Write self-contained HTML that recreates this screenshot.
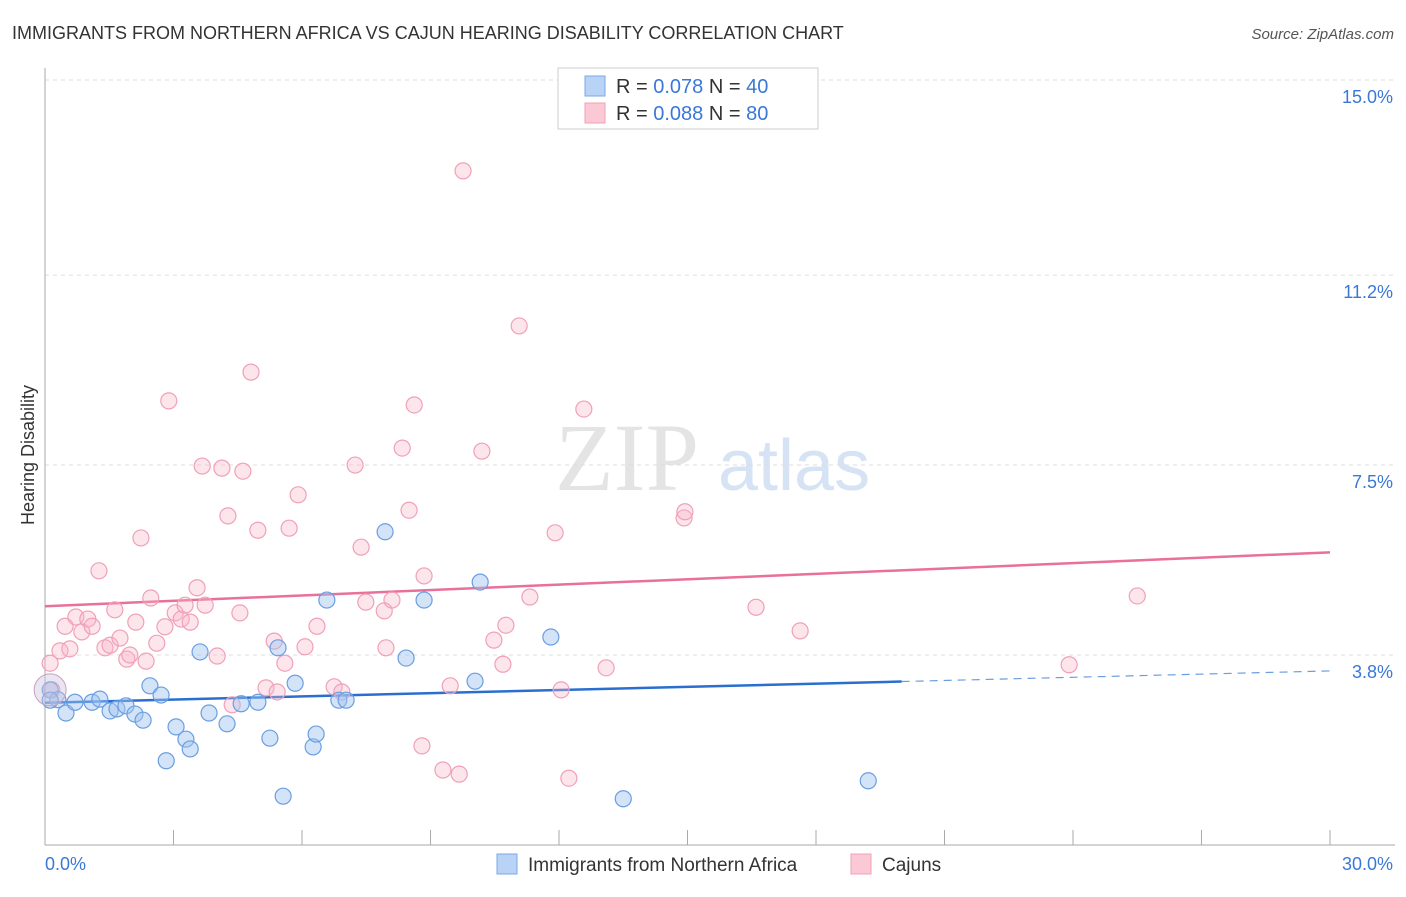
<!DOCTYPE html>
<html><head><meta charset="utf-8"><style>
body{margin:0;background:#fff;font-family:"Liberation Sans",sans-serif;}
svg text{font-family:"Liberation Sans",sans-serif;}
</style></head><body>
<svg id="chart" width="1406" height="892" viewBox="0 0 1406 892" xmlns="http://www.w3.org/2000/svg">
<text x="12" y="39" font-size="18" fill="#333">IMMIGRANTS FROM NORTHERN AFRICA VS CAJUN HEARING DISABILITY CORRELATION CHART</text>
<text x="1394" y="39" font-size="15" fill="#555" text-anchor="end" font-style="italic">Source: ZipAtlas.com</text>
<g>
<text x="555" y="490" font-size="96" fill="#e4e4e4" font-family="Liberation Serif" style="font-family:'Liberation Serif',serif">ZIP</text>
<text x="718" y="490" font-size="72" fill="#d5e3f4">atlas</text>
</g>
<g id="grid"></g>
<g id="axes"></g>
<g id="trends"></g>
<g id="points"></g>
<text transform="translate(34,455) rotate(-90)" font-size="18" fill="#333" text-anchor="middle">Hearing Disability</text>
<g>
<rect x="558" y="68" width="260" height="61" fill="#fff" stroke="#ccc"/>
<rect x="585" y="76" width="20" height="20" fill="#b8d3f5" stroke="#7aa9e6"/>
<rect x="585" y="103" width="20" height="20" fill="#fbc8d6" stroke="#f0a0b8"/>
<text x="616" y="93" font-size="20" fill="#333">R = <tspan fill="#3a78d8">0.078</tspan>   N = <tspan fill="#3a78d8">40</tspan></text>
<text x="616" y="120" font-size="20" fill="#333">R = <tspan fill="#3a78d8">0.088</tspan>   N = <tspan fill="#3a78d8">80</tspan></text>
</g>
<g>
<rect x="497" y="854" width="20" height="20" fill="#b8d3f5" stroke="#7aa9e6"/>
<text x="528" y="871" font-size="19" fill="#333">Immigrants from Northern Africa</text>
<rect x="851" y="854" width="20" height="20" fill="#fbc8d6" stroke="#f0a0b8"/>
<text x="882" y="871" font-size="19" fill="#333">Cajuns</text>
</g>
</svg>
<script>
const yTicks=[3.8,7.5,11.2,15.0];
const yTickLabels=["3.8%","7.5%","11.2%","15.0%"];
const xTickLabels=["0.0%","30.0%"];
const blueX=[0.12,0.30,0.49,0.70,1.10,1.28,1.52,1.68,1.89,2.10,2.29,2.45,2.71,2.83,3.06,3.29,3.39,3.62,3.83,4.25,4.58,4.97,5.25,5.44,5.56,5.84,6.26,6.33,6.58,6.86,7.03,7.94,8.43,8.85,10.04,10.16,11.81,13.50,19.22,0.12];
const blueY=[3.12,2.93,2.67,2.88,2.88,2.94,2.71,2.75,2.81,2.65,2.53,3.20,3.02,1.74,2.40,2.16,1.97,3.86,2.67,2.46,2.85,2.88,2.18,3.94,1.05,3.25,2.01,2.26,4.87,2.92,2.92,6.20,3.74,4.87,3.29,5.22,4.15,1.00,1.35,2.92];
const pinkX=[0.12,0.16,0.35,0.47,0.58,0.72,0.86,1.00,1.10,1.26,1.40,1.52,1.63,1.75,1.91,1.98,2.12,2.24,2.36,2.47,2.61,2.80,2.89,3.04,3.18,3.27,3.39,3.55,3.67,3.74,4.02,4.13,4.27,4.37,4.55,4.62,4.81,4.97,5.16,5.35,5.42,5.60,5.70,5.91,6.07,6.35,6.75,6.93,7.24,7.38,7.49,7.92,7.96,8.10,8.34,8.50,8.62,8.80,8.85,9.29,9.46,9.67,9.76,10.20,10.48,10.69,10.76,11.07,11.32,11.91,12.05,12.23,12.58,13.10,14.92,14.94,16.60,17.63,23.91,25.50];
const pinkY=[3.64,3.12,3.88,4.36,3.92,4.54,4.25,4.50,4.36,5.44,3.94,3.99,4.68,4.13,3.72,3.80,4.44,6.08,3.68,4.91,4.03,4.35,8.75,4.62,4.50,4.77,4.44,5.11,7.48,4.77,3.78,7.44,6.51,2.83,4.62,7.38,9.31,6.23,3.16,4.07,3.08,3.64,6.27,6.92,3.96,4.36,3.18,3.08,7.50,5.90,4.83,4.66,3.94,4.87,7.83,6.62,8.67,2.03,5.34,1.56,3.20,1.48,13.23,7.77,4.09,3.62,4.38,10.21,4.93,6.18,3.12,1.40,8.59,3.55,6.47,6.59,4.73,4.27,3.61,4.95];
const blueTrend=[2.87,3.49];
const pinkTrend=[4.75,5.80];
const NS="http://www.w3.org/2000/svg";
const sx=v=>45+v*(1285/30);
const sy=v=>655-(v-3.8)*(575/11.2);
function mk(tag,attrs,parent){const e=document.createElementNS(NS,tag);for(const k in attrs)e.setAttribute(k,attrs[k]);document.getElementById(parent).appendChild(e);return e;}
yTicks.forEach((t,i)=>{
 const l=mk('line',{x1:45,x2:1395,y1:sy(t),y2:sy(t),stroke:'#ddd','stroke-dasharray':'4,4'},'grid');
 
 
 const tx=mk('text',{x:1393,y:sy(t)+23,'font-size':18,fill:'#3a78d8','text-anchor':'end'},'grid');
 tx.textContent=yTickLabels[i];
 
 
});
const ax=mk('line',{x1:45,x2:1395,y1:845,y2:845,stroke:'#aaa'},'axes');


const ay=mk('line',{x1:45,x2:45,y1:68,y2:845,stroke:'#aaa'},'axes');


for(let i=0;i<=10;i++){const t=mk('line',{x1:sx(i*3),x2:sx(i*3),y1:830,y2:845,stroke:'#aaa'},'axes');
 
 }
[[0,'start',45],[30,'end',1393]].forEach((d,i)=>{const t=mk('text',{x:d[2],y:870,'font-size':18,fill:'#3a78d8','text-anchor':d[1]},'axes');t.textContent=xTickLabels[i];
 
 });
function pts(X,Y,fill,stroke,name){X.forEach((x,i)=>{const c=mk('circle',{cx:sx(x),cy:sy(Y[i]),r:8,fill:fill,stroke:stroke,'stroke-width':1.2},'points');
 
 });}
pts(pinkX,pinkY,'rgba(248,180,200,0.35)','#f0a0b8','cajun-point');
pts(blueX,blueY,'rgba(160,196,240,0.45)','#6a9ee0','immigrant-point');
const big=mk('circle',{cx:sx(0.12),cy:sy(3.12),r:16,fill:'rgba(200,190,220,0.4)',stroke:'#c8a0c0'},'points');


const at=(tr,x)=>tr[0]+(tr[1]-tr[0])*x/30;
const pl=mk('line',{x1:sx(0),y1:sy(at(pinkTrend,0)),x2:sx(30),y2:sy(at(pinkTrend,30)),stroke:'#e8709a','stroke-width':2.5},'trends');


const bl=mk('line',{x1:sx(0),y1:sy(at(blueTrend,0)),x2:sx(20),y2:sy(at(blueTrend,20)),stroke:'#2a6fd0','stroke-width':2.5},'trends');


const bd=mk('line',{x1:sx(20),y1:sy(at(blueTrend,20)),x2:sx(30),y2:sy(at(blueTrend,30)),stroke:'#6a9ee0','stroke-width':1.2,'stroke-dasharray':'8,6'},'trends');


</script>
</body></html>
